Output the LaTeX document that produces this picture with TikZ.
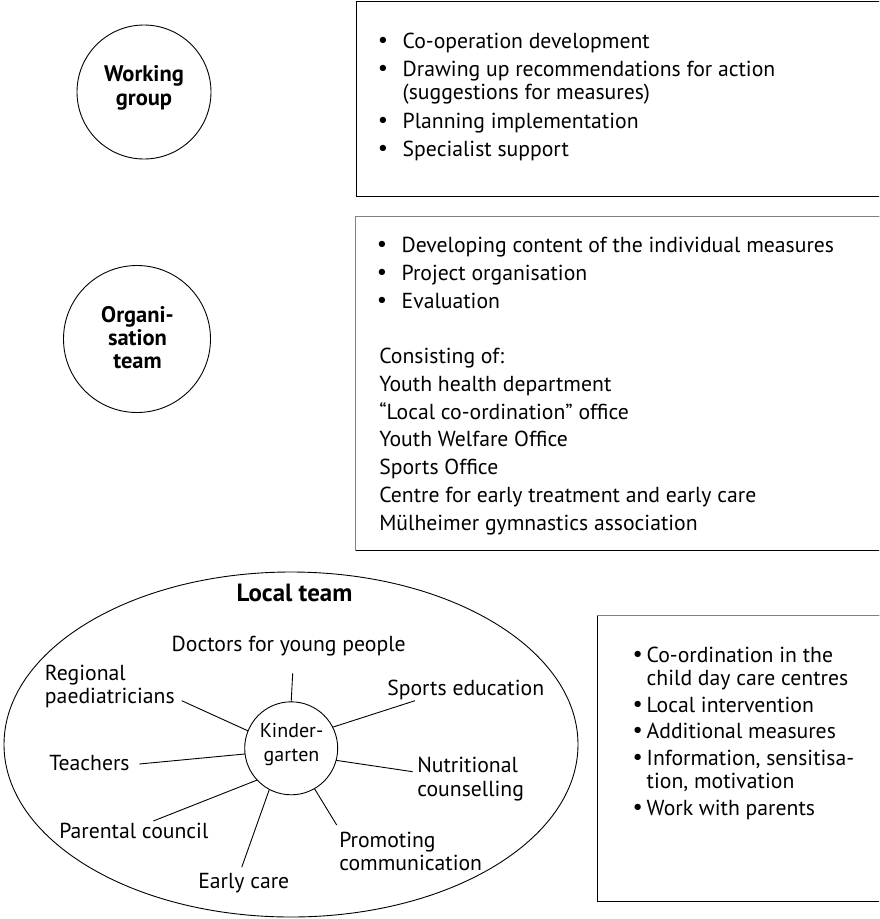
\documentclass[tikz,border=0pt]{standalone}
\usepackage{fontspec}
\setmainfont{PT Sans}
\newfontfamily\dotfont{DejaVu Sans}
\usetikzlibrary{shapes.geometric}
% bullet hung to the left of the text start; argument = twice the bullet-to-text distance
\newcommand\bulat[1]{\llap{\makebox[#1][c]{\dotfont\char"2022}}}
\newcommand\bul{\bulat{39.4pt}}
\newcommand\sbul{\bulat{18pt}}
\newcommand\outdent{\hspace*{-22.4pt}}
\newcommand\lines[1]{\begin{tabular}[t]{@{}l@{}}#1\end{tabular}}
\newcommand\clines[1]{\begin{tabular}[t]{@{}c@{}}#1\end{tabular}}
\begin{document}
\begin{tikzpicture}[x=1pt,y=-1pt,
  every node/.style={inner sep=0pt, outer sep=0pt},
  body/.style={font=\fontsize{21.7}{23.3}\selectfont},
  heading/.style={font=\bfseries\fontsize{22.5}{23.3}\selectfont},
  ring/.style={draw, circle, line width=0.9pt},
  frame/.style={draw, rectangle, line width=1pt, anchor=north west},
  link/.style={line width=0.9pt}]
\useasboundingbox (0,0) rectangle (879,919);
\fill[white] (0,0) rectangle (879,919);
\begin{scope}
\clip (0,0) rectangle (879,919);

% ---- Working group ----
\node[ring, minimum size=134pt] (wg) at (144,92) {};
\node[heading, anchor=base] (wgt) at (144,81.7) {\clines{Working\\group}};

\node[frame, minimum width=600pt, minimum height=195pt] (b1) at (356,1) {};
\node[body, anchor=base west] (b1t) at (402.7,48.3) {\lines{%
  \bul Co-operation development\\[4.4pt]
  \bul Drawing up recommendations for action\\
  (suggestions for measures)\\[5.7pt]
  \bul Planning implementation\\[4.4pt]
  \bul Specialist support}};

% ---- Organisation team ----
\node[ring, minimum size=147pt] (ot) at (137,339) {};
\node[heading, anchor=base] (ott) at (137.5,322) {\clines{Organi-\\sation\\team}};

\node[frame, minimum width=600pt, minimum height=334.7pt] (b2) at (355,216) {};
\draw[gray, line width=1pt] (b2.south west) -- (b2.north west) -- (b2.north east);
\node[body, anchor=base west] (b2t) at (401.7,252.3) {\lines{%
  \bul Developing content of the individual measures\\[4.4pt]
  \bul Project organisation\\[5pt]
  \bul Evaluation\\[31.7pt]
  \outdent Consisting of:\\[4.4pt]
  \outdent Youth health department\\[4.4pt]
  \outdent “Local co-ordination” office\\[4.4pt]
  \outdent Youth Welfare Office\\[4.4pt]
  \outdent Sports Office\\[4.4pt]
  \outdent Centre for early treatment and early care\\[4.4pt]
  \outdent Mülheimer gymnastics association}};

% ---- Local team ----
\node[draw, ellipse, line width=0.9pt, minimum width=574pt, minimum height=345pt] (lt) at (291,744.5) {};
\node[font=\bfseries\fontsize{24.9}{28}\selectfont, anchor=base] (ltt) at (294.5,601.7) {Local team};

\node[ring, minimum size=93pt] (kg) at (291.2,748.3) {};
\node[font=\fontsize{20}{24.4}\selectfont, anchor=base] (kgt) at (291.5,737.3) {\clines{Kinder-\\garten}};

\node[body, anchor=base west] (doc) at (171.7,651.7) {Doctors for young people};
\node[body, anchor=base west] (paed) at (45,680) {\lines{Regional\\paediatricians}};
\node[body, anchor=base west] (tea) at (49.3,770) {Teachers};
\node[body, anchor=base west] (par) at (59.3,838.3) {Parental council};
\node[body, anchor=base west] (early) at (198.3,888.3) {Early care};
\node[body, anchor=base west] (prom) at (339.3,847.3) {\lines{Promoting\\communication}};
\node[body, anchor=base west] (nut) at (417.3,772.7) {\lines{Nutritional\\counselling}};
\node[body, anchor=base west] (spo) at (387.3,695) {Sports education};

\coordinate (docE) at (292.7,673.3);
\coordinate (paedE) at (181.7,700.7);
\coordinate (teaE) at (139.3,764);
\coordinate (parE) at (153.3,821);
\coordinate (earlyE) at (241.7,867.3);
\coordinate (promE) at (336.7,825);
\coordinate (nutE) at (412.7,771.7);
\coordinate (spoE) at (415,700.7);

\draw[link] (kg.90) -- (docE);
\draw[link] (kg.158.6) -- (paedE);
\draw[link] (kg.187) -- (teaE);
\draw[link] (kg.223) -- (parE);
\draw[link] (kg.242.7) -- (earlyE);
\draw[link] (kg.300.8) -- (promE);
\draw[link] (kg.345.8) -- (nutE);
\draw[link] (kg.27.6) -- (spoE);

% ---- Local tasks ----
\node[frame, minimum width=360pt, minimum height=286pt] (b3) at (597.3,615) {};
\draw[gray, line width=1pt] (b3.north west) -- (b3.north east);
\node[font=\fontsize{21.7}{22.5}\selectfont, anchor=base west] (b3t) at (646.7,662.7) {\lines{%
  \sbul Co-ordination in the\\
  child day care centres\\[5.2pt]
  \sbul Local intervention\\[3.1pt]
  \sbul Additional measures\\[4.2pt]
  \sbul Information, sensitisa-\\[0.8pt]
  tion, motivation\\[4.2pt]
  \sbul Work with parents}};
\end{scope}
\end{tikzpicture}
\end{document}
